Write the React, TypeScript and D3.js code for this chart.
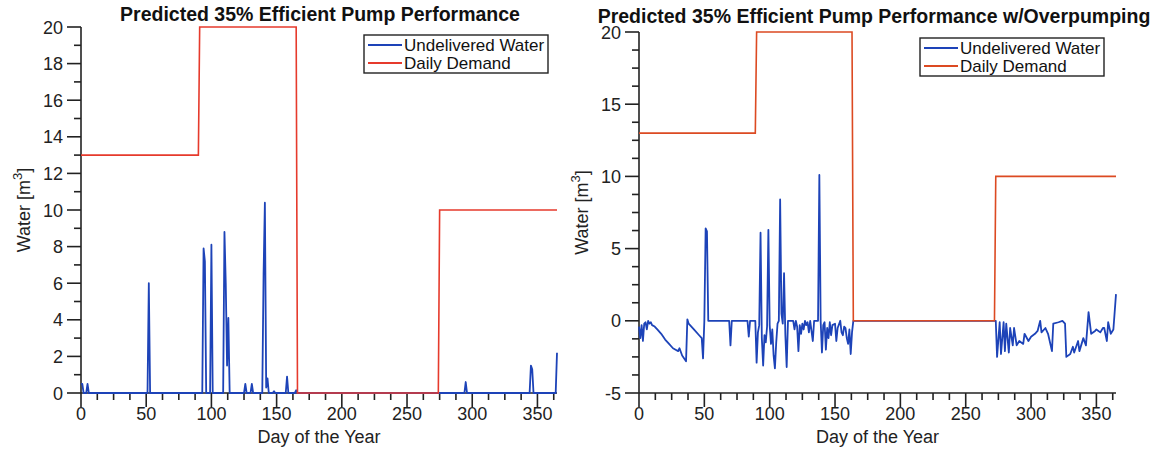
import React from 'react';
import * as d3 from 'd3';

type Pt = [number, number];

// day of the year ticks
const dayTicks = [0, 50, 100, 150, 200, 250, 300, 350];
const leftWaterTicks = [0, 2, 4, 6, 8, 10, 12, 14, 16, 18, 20];
const rightWaterTicks = [-5, 0, 5, 10, 15, 20];

const seriesNames = ['Undelivered Water', 'Daily Demand'];

// daily demand [day, m3]
const demandLeft: Pt[] = [[0, 13], [90, 13], [91, 20], [165, 20], [166, 0], [274, 0], [275, 10], [365, 10]];
const demandRight: Pt[] = [[0, 13], [89, 13], [90, 20], [163, 20], [164, 0], [272, 0], [273, 10], [365, 10]];

// undelivered water, plain pump [day, m3]
const undeliveredLeft: Pt[] = [
  [0, 0.5], [1, 0.5], [2, 0], [4, 0], [5, 0.5], [6, 0],
  [51, 0], [52, 6.0], [53, 0],
  [93, 0], [94, 7.9], [95, 7.2], [96, 0],
  [99, 0], [100, 8.1], [101, 0],
  [109, 0], [110, 8.8], [111, 6.0], [112, 1.5], [113, 4.1], [114, 0],
  [125, 0], [126, 0.5], [127, 0], [130, 0], [131, 0.5], [132, 0],
  [139, 0], [140, 6.5], [141, 10.4], [142, 0.3], [143, 0.8], [144, 0], [147, 0], [148, 0.1], [149, 0],
  [157, 0], [158, 0.9], [159, 0], [164, 0], [165, 0.15], [166, 0],
  [294, 0], [295, 0.6], [296, 0],
  [344, 0], [345, 1.5], [346, 1.3], [347, 0],
  [364, 0], [365, 2.2],
];

// undelivered water with overpumping [day, m3]
const undeliveredRight: Pt[] = [
  [0, -0.4], [1, -1.2], [2, -0.3], [3, -1.4], [4, -0.2], [5, -0.1], [6, -0.6], [7, 0], [8, -0.2],
  [9, -0.1], [10, -0.3], [12, -0.4], [14, -0.6], [17, -0.9], [20, -1.3], [23, -1.6], [26, -1.9],
  [28, -2.0], [30, -2.1], [31, -1.9], [33, -2.4], [36, -2.8], [37, 0.1], [38, -0.2], [42, -0.6],
  [46, -1.0], [48, -1.2], [49, -2.6], [50, 0], [51, 6.4], [52, 6.2], [53, 0],
  [69, 0], [70, -1.7], [71, 0], [83, 0], [84, -1.1], [85, 0], [89, 0],
  [90, -2.9], [91, -0.8], [92, -0.3], [93, 6.1], [94, -1.2], [95, -3.1], [96, -1.0], [97, -1.5],
  [98, -0.4], [99, 6.3], [100, -0.3], [101, -1.6], [102, -0.6], [103, -2.4], [104, -3.3],
  [105, -1.5], [106, -0.2], [107, 0], [108, 8.4], [109, 0.5], [110, -0.2], [111, 3.3], [112, -1.0],
  [113, -3.2], [114, 0], [118, 0], [119, -0.6], [120, 0], [121, -0.4], [122, -2.1], [123, -0.3],
  [124, -0.9], [125, -0.2], [126, -0.6], [127, 0], [128, -0.3], [129, -0.1], [130, -0.8], [131, 0],
  [133, -1.4], [134, 0], [137, 0], [138, 10.1], [139, 0], [140, -2.2], [141, -0.3], [142, -0.1],
  [143, -2.0], [144, -0.5], [145, -1.2], [146, -0.1], [147, -1.0], [148, -0.3], [150, -0.2],
  [151, -1.4], [152, -0.5], [154, 0], [155, -0.8], [156, -1.0], [157, -0.4], [158, -0.5],
  [159, -1.2], [160, -1.6], [161, -0.6], [162, -2.3], [163, -0.8], [164, 0],
  [273, 0], [274, -2.5], [276, -0.1], [277, -2.3], [279, -0.1], [280, -2.1], [281, -0.2],
  [283, -2.2], [284, -0.5], [286, -1.7], [287, -0.5], [289, -1.7], [291, -1.4], [294, -1.6],
  [295, -0.9], [298, -1.4], [300, -1.1], [303, -0.9], [305, -0.7], [307, 0], [308, -0.8],
  [311, -0.5], [313, -0.9], [316, -2.1], [317, -0.2], [321, -0.1], [324, 0], [326, -0.2],
  [327, -2.5], [330, -2.3], [332, -1.8], [333, -2.2], [336, -1.4], [337, -2.1], [340, -1.2],
  [342, -1.7], [344, 0.6], [346, -0.9], [349, -0.7], [350, -0.6], [353, -0.8], [355, -0.5],
  [356, -0.5], [358, -1.4], [359, -0.1], [361, -0.9], [363, -0.6], [365, 1.85],
];

const FONT = '"Liberation Sans", Arial, Helvetica, sans-serif';
const AXIS = '#222';
const BLUE = '#1d43b8';

interface PanelProps {
  title: string;
  titleX: number;
  titleY: number;
  x0: number;
  x1: number;
  yTop: number;
  yBottom: number;
  yDomain: [number, number];
  yTicks: number[];
  yMinorStep: number;
  undelivered: Pt[];
  demand: Pt[];
  demandColor: string;
  legendX: number;
  legendY: number;
}

const Panel: React.FC<PanelProps> = (p) => {
  const x = d3.scaleLinear().domain([0, 365]).range([p.x0, p.x1]);
  const y = d3.scaleLinear().domain(p.yDomain).range([p.yBottom, p.yTop]);
  const line = d3.line<Pt>().x((d) => x(d[0])).y((d) => y(d[1]));

  const xMinor = d3.range(0, 365.01, 12.5).filter((v) => !dayTicks.includes(v));
  const yMinor = d3.range(p.yDomain[0], p.yDomain[1] + 0.01, p.yMinorStep).filter((v) => !p.yTicks.includes(v));
  const cx = (p.x0 + p.x1) / 2;
  const cy = (p.yTop + p.yBottom) / 2;

  return (
    <g>
      <text x={p.titleX} y={p.titleY} textAnchor="middle" fontFamily={FONT} fontWeight="bold" fontSize={19.5} fill="#111">
        {p.title}
      </text>

      {/* axes */}
      <g stroke={AXIS} strokeWidth={1.6}>
        <line x1={p.x0} x2={p.x1} y1={p.yBottom} y2={p.yBottom} />
        <line x1={p.x0} x2={p.x0} y1={p.yTop} y2={p.yBottom} />
        {dayTicks.map((t) => (
          <line key={'xt' + t} x1={x(t)} x2={x(t)} y1={p.yBottom} y2={p.yBottom + 14} />
        ))}
        {xMinor.map((t) => (
          <line key={'xm' + t} x1={x(t)} x2={x(t)} y1={p.yBottom} y2={p.yBottom + 7} />
        ))}
        {p.yTicks.map((t) => (
          <line key={'yt' + t} x1={p.x0 - 14} x2={p.x0} y1={y(t)} y2={y(t)} />
        ))}
        {yMinor.map((t) => (
          <line key={'ym' + t} x1={p.x0 - 7} x2={p.x0} y1={y(t)} y2={y(t)} />
        ))}
      </g>

      <path d={line(p.undelivered) || ''} fill="none" stroke={BLUE} strokeWidth={1.8} strokeLinejoin="round" />
      <path d={line(p.demand) || ''} fill="none" stroke={p.demandColor} strokeWidth={1.6} />

      <g fontFamily={FONT} fontSize={18} fill="#222">
        {dayTicks.map((t) => (
          <text key={'xl' + t} x={x(t)} y={p.yBottom + 27} textAnchor="middle">{t}</text>
        ))}
        {p.yTicks.map((t) => (
          <text key={'yl' + t} x={p.x0 - 18} y={y(t) + 6.5} textAnchor="end">{t}</text>
        ))}
        <text x={cx} y={p.yBottom + 50} textAnchor="middle">Day of the Year</text>
        <text transform={`translate(${p.x0 - 51},${cy}) rotate(-90)`} textAnchor="middle">
          Water [m<tspan fontSize={13} dy={-8}>3</tspan><tspan dy={8}>]</tspan>
        </text>
      </g>

      {/* legend */}
      <g transform={`translate(${p.legendX},${p.legendY})`}>
        <rect x={0} y={0} width={184} height={38} fill="#fff" stroke={AXIS} strokeWidth={1.4} />
        {seriesNames.map((name, i) => (
          <g key={name} transform={`translate(0,${10 + i * 18})`}>
            <line x1={4} x2={38} y1={0} y2={0} stroke={i === 0 ? BLUE : p.demandColor} strokeWidth={1.8} />
            <text x={40} y={6} fontFamily={FONT} fontSize={17} fill="#111">{name}</text>
          </g>
        ))}
      </g>
    </g>
  );
};

export default function App() {
  return (
    <svg width={1151} height={452} style={{ position: 'absolute', left: 0, top: 0, background: '#fff' }}>
      <rect width={1151} height={452} fill="#fff" />
      <Panel
        title="Predicted 35% Efficient Pump Performance"
        titleX={320} titleY={21}
        x0={81} x1={557} yTop={27} yBottom={393}
        yDomain={[0, 20]} yTicks={leftWaterTicks} yMinorStep={1}
        undelivered={undeliveredLeft} demand={demandLeft} demandColor="#e63a2c"
        legendX={364} legendY={35}
      />
      <Panel
        title="Predicted 35% Efficient Pump Performance w/Overpumping"
        titleX={874} titleY={23}
        x0={639} x1={1116} yTop={32} yBottom={393}
        yDomain={[-5, 20]} yTicks={rightWaterTicks} yMinorStep={1.25}
        undelivered={undeliveredRight} demand={demandRight} demandColor="#dc4a22"
        legendX={920} legendY={38}
      />
    </svg>
  );
}
